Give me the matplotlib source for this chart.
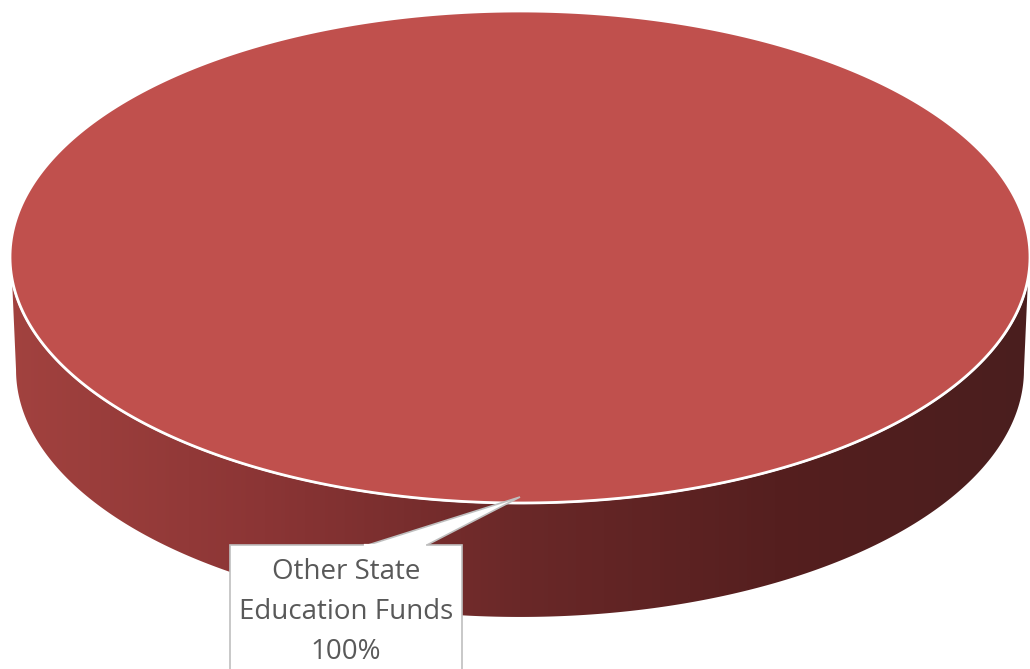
import matplotlib.pyplot as plt
import numpy as np
from matplotlib.patches import Polygon
from matplotlib.colors import LinearSegmentedColormap

# pie data
labels = ['Other State Education Funds']
values = [100]
colors = ['#C0504D']

fig = plt.figure(figsize=(10.30, 6.69), dpi=100)
ax = fig.add_axes([0, 0, 1, 1])
ax.set_xlim(0, 1030)
ax.set_ylim(669, 0)
ax.axis('off')

# geometry of the tilted disc (pixel space)
cx, cy, a, b = 520, 257, 510, 246
depth = 113
a_bot, b_bot = 505, 248

total = float(sum(values))
start = 90.0  # first slice starts at 12 o'clock, goes clockwise

t = np.linspace(0, np.pi, 300)
top_lower = np.column_stack([cx + a * np.cos(t[::-1]), cy + b * np.sin(t[::-1])])
bot_lower = np.column_stack([cx + a_bot * np.cos(t), cy + depth + b_bot * np.sin(t)])
side = Polygon(np.vstack([top_lower, bot_lower]), closed=True,
               facecolor='none', edgecolor='white', lw=1.5, zorder=2)
ax.add_patch(side)

# horizontal shading on the side wall
shade = LinearSegmentedColormap.from_list(
    'side', ['#A2423F', '#8B3535', '#6A2828', '#551F1F', '#4A1E1E'])
grad = np.linspace(0, 1, 512)[None, :]
im = ax.imshow(grad, cmap=shade, aspect='auto', extent=(10, 1030, 625, 250), zorder=1)
im.set_clip_path(side)

# top faces, one per slice
for i, v in enumerate(values):
    span = 360.0 * v / total
    th = np.radians(np.linspace(start, start - span, 400))
    pts = np.column_stack([cx + a * np.cos(th), cy - b * np.sin(th)])
    if span < 360:
        pts = np.vstack([[cx, cy], pts])
    ax.add_patch(Polygon(pts, closed=True, facecolor=colors[i],
                         edgecolor='white', lw=2, zorder=3))

    # callout label at the middle of the slice
    mid = np.radians(start - span / 2)
    tip = (cx + (a - 6) * np.cos(mid), cy - (b - 6) * np.sin(mid))
    bx0, bx1, by0 = 230, 462, 545
    wedge = Polygon([tip, (425, by0 + 1), (365, by0 + 1)], closed=True,
                    facecolor='white', edgecolor='#BFBFBF', lw=1.2, zorder=4)
    ax.add_patch(wedge)
    box = Polygon([(bx0, by0), (bx1, by0), (bx1, 690), (bx0, 690)], closed=True,
                  facecolor='white', edgecolor='#BFBFBF', lw=1.2, zorder=5)
    ax.add_patch(box)
    ax.plot([365, 425], [by0, by0], color='white', lw=1.6, zorder=6)
    pct = f'{v / total * 100:.0f}%'
    ax.text((bx0 + bx1) / 2, 612, 'Other State\nEducation Funds\n' + pct,
            ha='center', va='center', fontsize=20, color='#595959',
            family=['Open Sans', 'DejaVu Sans'], linespacing=1.55, zorder=7)

fig.savefig('out.png', dpi=100)
